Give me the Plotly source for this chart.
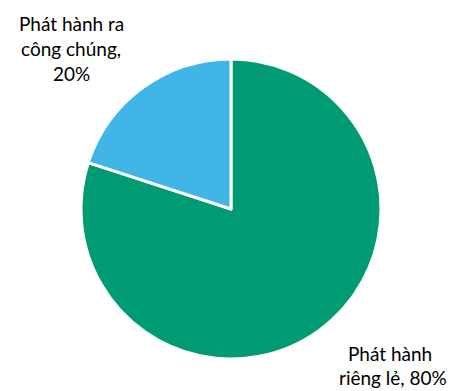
import plotly.graph_objects as go

labels = ["Phát hành riêng lẻ", "Phát hành ra công chúng"]
values = [80, 20]
colors = ["#009A73", "#41B6E6"]
label_lines = [["Phát hành", "riêng lẻ, 80%"], ["Phát hành ra", "công chúng,", "20%"]]

W, H = 449, 383  # page body has an 8px margin

fig = go.Figure(go.Pie(
    labels=labels, values=values, sort=False, direction="clockwise",
    rotation=0, textinfo="none", hoverinfo="label+percent",
    marker=dict(colors=colors, line=dict(color="white", width=3)),
    domain=dict(x=[73/W, 373/W], y=[1-351/H, 1-51/H]),
    showlegend=False,
))

font = dict(family="Lato", size=19, color="black")
# top-left label (20%)
for i, line in enumerate(label_lines[1]):
    fig.add_annotation(x=63/W, y=1-(16+25*i)/H, xref="paper", yref="paper",
                       xanchor="center", yanchor="middle", text=line,
                       showarrow=False, font=font)
# bottom-right label (80%)
for i, (line, cx) in enumerate(zip(label_lines[0], [382, 384.5])):
    fig.add_annotation(x=cx/W, y=1-(345+24*i)/H, xref="paper", yref="paper",
                       xanchor="center", yanchor="middle", text=line,
                       showarrow=False, font=font)

fig.update_layout(width=W, height=H, margin=dict(l=0, r=0, t=0, b=0),
                  paper_bgcolor="white", plot_bgcolor="white")
fig.write_html("out.html")
